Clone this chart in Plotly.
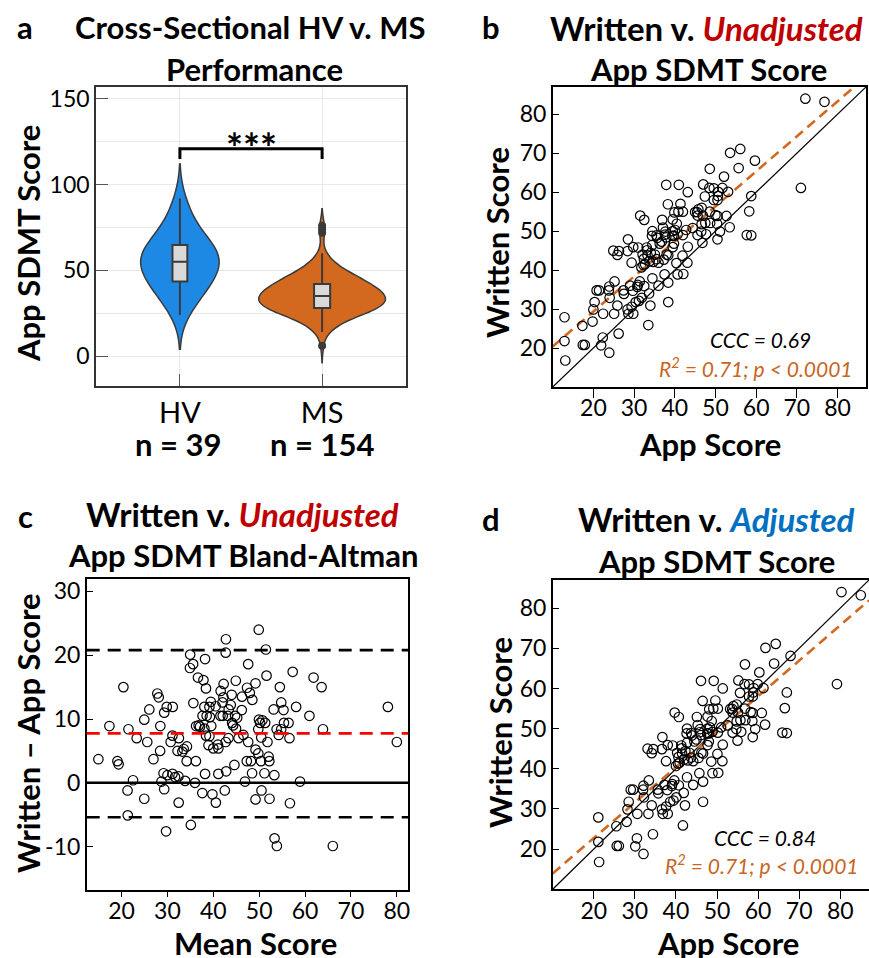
import plotly.graph_objects as go
import numpy as np

W, H = 869, 958
FONT = "Lato"

# ---------------- Panel a data ----------------
group_labels = ["HV", "MS"]
group_n = [39, 154]
hv_scores = [24, 28, 31, 34, 36, 38, 40, 41, 42, 43,
             45, 46, 48, 49, 50, 51, 52, 53, 54, 55,
             56, 57, 58, 59, 60, 61, 62, 63, 64, 65,
             66, 68, 70, 72, 75, 78, 82, 86, 92]
ms_scores = [6,
             14, 15, 16, 17, 18, 19,
             20, 20, 21, 21, 22, 22, 23, 23, 24, 24,
             25, 25, 25, 25, 25, 26, 26, 26, 26, 26, 27, 27, 27, 27, 27, 27,
             28, 28, 28, 28, 28, 28, 29, 29, 29, 29, 29, 29,
             30, 30, 30, 30, 30, 30, 31, 31, 31, 31, 31, 31, 32, 32, 32, 32, 32, 32,
             33, 33, 33, 33, 33, 33, 34, 34, 34, 34, 34, 34,
             35, 35, 35, 35, 35, 35, 36, 36, 36, 36, 36, 36, 37, 37, 37, 37, 37, 37,
             38, 38, 38, 38, 38, 39, 39, 39, 39, 39,
             40, 40, 40, 40, 40, 41, 41, 41, 41, 41, 42, 42, 42, 42, 43, 43, 43, 43,
             44, 44, 44, 44,
             45, 45, 45, 45, 46, 46, 46, 47, 47, 47, 48, 48, 48, 49, 49, 49,
             50, 51, 52, 52, 53, 54,
             55, 56, 58, 60,
             72, 74, 76]
sig_label = "***"

# ---------------- Panels b-d data ----------------
written = [16.8, 21.8, 20.8, 20.8, 27.9, 25.7, 20.7, 18.8, 22.7, 26.8,
           29.9, 23.7, 28.8, 31.8, 28.8, 34.8, 34.8, 32.9, 30.9, 28.8,
           29.9, 34.8, 28.8, 25.9, 35.8, 37.1, 33.9, 34.8, 31.8, 32.1,
           36.0, 32.9, 30.9, 34.7, 35.7, 34.0, 37.1, 35.9, 45.0, 43.9,
           44.9, 31.8, 41.9, 36.0, 40.7, 37.9, 44.9, 41.5, 36.8, 42.9,
           45.9, 44.0, 42.3, 38.9, 47.9, 45.8, 43.8, 42.1, 42.8, 41.9,
           45.1, 45.8, 44.0, 38.9, 42.7, 39.0, 43.8, 41.8, 48.8, 46.8,
           48.3, 47.3, 50.0, 48.9, 54.0, 52.9, 45.9, 43.7, 41.9, 48.4,
           46.8, 49.1, 50.9, 48.8, 50.0, 46.0, 52.9, 49.2, 49.0, 51.9,
           53.0, 47.0, 54.8, 49.0, 56.9, 50.8, 55.0, 49.9, 49.2, 55.0,
           57.0, 51.8, 47.9, 52.1, 61.9, 54.9, 54.0, 54.9, 54.0, 52.1,
           49.9, 56.0, 51.9, 61.9, 60.0, 55.0, 54.1, 53.9, 51.0, 58.9,
           53.9, 49.0, 48.9, 58.0, 58.0, 62.0, 61.1, 59.0, 61.0, 60.1,
           61.1, 60.1, 55.1, 66.0, 64.0, 59.0, 66.2, 70.1, 71.1, 68.1,
           61.1, 84.0, 83.2, 46.5, 49.9, 41.3, 50.3, 44.4, 44.0, 36.2,
           50.3, 55.6, 30.6, 48.8]
app_unadj = [13.1, 12.9, 17.4, 17.9, 12.9, 17.3, 21.9, 23.9, 22.3, 19.8,
             20.0, 26.2, 22.4, 20.3, 25.1, 20.8, 21.4, 24.0, 25.9, 28.6,
             28.4, 23.8, 29.8, 33.5, 23.9, 25.2, 27.5, 27.4, 30.4, 31.2,
             29.0, 31.9, 34.0, 29.7, 30.8, 33.7, 31.4, 32.5, 24.9, 25.9,
             26.3, 38.4, 29.4, 36.0, 31.8, 34.5, 28.4, 32.7, 38.4, 32.4,
             29.8, 32.1, 33.8, 37.5, 28.5, 31.0, 33.3, 34.7, 35.5, 36.0,
             33.2, 33.1, 35.1, 40.7, 37.3, 42.1, 38.4, 40.4, 34.4, 36.3,
             35.7, 36.8, 34.5, 35.5, 31.5, 32.5, 39.5, 41.9, 43.1, 37.9,
             39.8, 37.6, 37.1, 39.4, 39.5, 43.2, 36.9, 40.7, 42.0, 40.5,
             39.5, 46.8, 39.9, 45.6, 38.3, 44.4, 40.9, 46.5, 47.7, 42.0,
             41.4, 46.6, 50.5, 47.5, 37.9, 45.0, 45.6, 45.5, 46.9, 48.7,
             51.1, 46.6, 50.4, 41.0, 43.2, 48.6, 50.0, 50.5, 53.5, 47.4,
             52.7, 57.7, 58.8, 49.6, 50.5, 47.0, 48.5, 50.6, 49.6, 50.7,
             51.7, 53.1, 58.3, 48.6, 52.1, 58.8, 55.7, 53.6, 56.1, 59.7,
             71.0, 72.1, 76.8, 34.5, 37.7, 32.3, 40.1, 34.1, 38.0, 30.9,
             42.8, 45.8, 29.4, 39.8]
app_adj = [21.3, 21.1, 25.6, 26.1, 21.1, 25.5, 30.1, 32.1, 30.5, 28.0,
           28.2, 34.4, 30.6, 28.5, 33.3, 29.0, 29.6, 32.2, 34.1, 36.8,
           36.6, 32.0, 38.0, 41.7, 32.1, 33.4, 35.7, 35.6, 38.6, 39.4,
           37.2, 40.1, 42.2, 37.9, 39.0, 41.9, 39.6, 40.7, 33.1, 34.1,
           34.5, 46.6, 37.6, 44.2, 40.0, 42.7, 36.6, 40.9, 46.6, 40.6,
           38.0, 40.3, 42.0, 45.7, 36.7, 39.2, 41.5, 42.9, 43.7, 44.2,
           41.4, 41.3, 43.3, 48.9, 45.5, 50.3, 46.6, 48.6, 42.6, 44.5,
           43.9, 45.0, 42.7, 43.7, 39.7, 40.7, 47.7, 50.1, 51.3, 46.1,
           48.0, 45.8, 45.3, 47.6, 47.7, 51.4, 45.1, 48.9, 50.2, 48.7,
           47.7, 55.0, 48.1, 53.8, 46.5, 52.6, 49.1, 54.7, 55.9, 50.2,
           49.6, 54.8, 58.7, 55.7, 46.1, 53.2, 53.8, 53.7, 55.1, 56.9,
           59.3, 54.8, 58.6, 49.2, 51.4, 56.8, 58.2, 58.7, 61.7, 55.6,
           60.9, 65.9, 67.0, 57.8, 58.7, 55.2, 56.7, 58.8, 57.8, 58.9,
           59.9, 61.3, 66.5, 56.8, 60.3, 67.0, 63.9, 61.8, 64.3, 67.9,
           79.2, 80.3, 85.0, 42.7, 45.9, 40.5, 48.3, 42.3, 46.2, 39.1,
           51.0, 54.0, 37.6, 48.0]

fit_b = (11.4, 0.899)   # intercept, slope (unadjusted)
fit_d = (5.1, 0.883)    # intercept, slope (adjusted)
ccc_b, ccc_d = 0.69, 0.84
r2_text = "0.71"
p_text = "0.0001"
ba_bias, ba_upper, ba_lower = 7.75, 20.8, -5.4

score_ticks = [20, 30, 40, 50, 60, 70, 80]
ba_yticks = [-10, 0, 10, 20, 30]
ba_yticktext = ["-10", "0", "10", "20", "30"]
violin_yticks = [0, 50, 100, 150]

# Bland-Altman derived quantities
ba_mean = [(w + a) / 2 for w, a in zip(written, app_unadj)]
ba_diff = [w - a for w, a in zip(written, app_unadj)]

# ---------------- styling ----------------
BLUE_V = "#1E88E5"
ORANGE_V = "#D2691E"
ORANGE = "#D2691E"
ORANGE_TXT = "#C8651E"
RED_T = "#C00000"
BLUE_T = "#0070C0"
DARK = "#3A3A3A"


def PX(x):
    return x / W


def PY(y):
    return 1 - y / H


rng_b = [10, 87]
rng_cx = [12.4, 82.5]
rng_cy = [-16.8, 31.9]
rng_ax = [-0.59, 1.59]
rng_ay = [-17.5, 157]

fig = go.Figure()

# ---- Panel a: violins ----
fig.add_trace(go.Violin(
    x0=0, y=hv_scores, name=group_labels[0], width=0.55, bandwidth=10,
    fillcolor=BLUE_V, opacity=1, line=dict(color=DARK, width=1.5),
    box=dict(visible=True, width=0.19, fillcolor="#D9D9D9", line=dict(color=DARK, width=2)),
    meanline=dict(visible=False), points=False, spanmode="soft",
    scalemode="width", showlegend=False, xaxis="x", yaxis="y", hoverinfo="skip"))
fig.add_trace(go.Violin(
    x0=1, y=ms_scores, name=group_labels[1], width=0.89, bandwidth=5,
    fillcolor=ORANGE_V, opacity=1, line=dict(color=DARK, width=1.5),
    box=dict(visible=True, width=0.127, fillcolor="#D9D9D9", line=dict(color=DARK, width=2)),
    meanline=dict(visible=False), points="outliers", pointpos=0, jitter=0,
    marker=dict(color=DARK, size=8, line=dict(width=0)), spanmode="soft",
    scalemode="width", showlegend=False, xaxis="x", yaxis="y", hoverinfo="skip"))

bracket_y, bracket_drop = 121, 6
fig.add_trace(go.Scatter(
    x=[0, 0, 1, 1], y=[bracket_y - bracket_drop, bracket_y, bracket_y, bracket_y - bracket_drop],
    mode="lines", line=dict(color="black", width=3), showlegend=False,
    xaxis="x", yaxis="y", hoverinfo="skip"))

marker_style = dict(symbol="circle-open", size=9.5, color="black", line=dict(width=1.2))

# ---- Panel b ----
fig.add_trace(go.Scatter(x=rng_b, y=rng_b, mode="lines", line=dict(color="black", width=1.2),
                         xaxis="x2", yaxis="y2", showlegend=False, hoverinfo="skip"))
xb = np.array(rng_b, dtype=float)
fig.add_trace(go.Scatter(x=xb, y=fit_b[0] + fit_b[1] * xb, mode="lines",
                         line=dict(color=ORANGE, width=2.6, dash="10px,6px"),
                         xaxis="x2", yaxis="y2", showlegend=False, hoverinfo="skip"))
fig.add_trace(go.Scatter(x=app_unadj, y=written, mode="markers", marker=marker_style,
                         xaxis="x2", yaxis="y2", showlegend=False))

# ---- Panel c ----
fig.add_trace(go.Scatter(x=ba_mean, y=ba_diff, mode="markers", marker=marker_style,
                         xaxis="x3", yaxis="y3", showlegend=False))

# ---- Panel d ----
fig.add_trace(go.Scatter(x=rng_b, y=rng_b, mode="lines", line=dict(color="black", width=1.2),
                         xaxis="x4", yaxis="y4", showlegend=False, hoverinfo="skip"))
fig.add_trace(go.Scatter(x=xb, y=fit_d[0] + fit_d[1] * xb, mode="lines",
                         line=dict(color=ORANGE, width=2.6, dash="10px,6px"),
                         xaxis="x4", yaxis="y4", showlegend=False, hoverinfo="skip"))
fig.add_trace(go.Scatter(x=app_adj, y=written, mode="markers", marker=marker_style,
                         xaxis="x4", yaxis="y4", showlegend=False))

# empty traces for the tick-mark-only overlay axes
for xa, ya in (("x5", "y2"), ("x6", "y3"), ("x7", "y4")):
    fig.add_trace(go.Scatter(x=[], y=[], xaxis=xa, yaxis=ya, showlegend=False, hoverinfo="skip"))

# Bland-Altman reference lines
shapes = [
    dict(type="line", xref="x3 domain", yref="y3", x0=0, x1=1, y0=ba_upper, y1=ba_upper,
         line=dict(color="black", width=2.6, dash="13px,8px")),
    dict(type="line", xref="x3 domain", yref="y3", x0=0, x1=1, y0=ba_lower, y1=ba_lower,
         line=dict(color="black", width=2.6, dash="13px,8px")),
    dict(type="line", xref="x3 domain", yref="y3", x0=0, x1=1, y0=ba_bias, y1=ba_bias,
         line=dict(color="#FF0000", width=2.6, dash="13px,8px")),
    dict(type="line", xref="x3 domain", yref="y3", x0=0, x1=1, y0=0, y1=0,
         line=dict(color="black", width=2.4)),
]

tickfont = dict(family=FONT, size=23, color="black")

common_box = dict(showline=True, linecolor="black", linewidth=1.5, mirror=True,
                  showgrid=False, zeroline=False, tickfont=tickfont, automargin=False,
                  tickcolor="black", tickwidth=1.3)


def tick_overlay(base, anchor, rng, ticklen):
    return dict(overlaying=base, anchor=anchor, range=rng, tickvals=score_ticks,
                ticks="outside", ticklen=ticklen, tickcolor="black", tickwidth=1.3,
                showticklabels=False, showline=False, showgrid=False, zeroline=False,
                automargin=False, side="bottom")


layout = dict(
    width=W, height=H, margin=dict(l=0, r=0, t=0, b=0, pad=0),
    paper_bgcolor="white", plot_bgcolor="white", template="none",
    violinmode="overlay", violingap=0, showlegend=False,
    font=dict(family=FONT, color="black"),
    xaxis=dict(domain=[PX(96), PX(406)], range=rng_ax, tickvals=[0, 1], ticktext=group_labels,
               showline=True, linecolor="#333333", linewidth=1.5, mirror=True,
               showgrid=True, gridcolor="#E8E8E8", gridwidth=1.2, zeroline=False,
               ticks="inside", ticklen=12, tickcolor="#555555", tickwidth=1.3,
               tickfont=dict(family=FONT, size=29, color="black"), automargin=False,
               anchor="y"),
    yaxis=dict(domain=[PY(386), PY(87)], range=rng_ay, tickvals=violin_yticks,
               showline=True, linecolor="#333333", linewidth=1.5, mirror=True,
               showgrid=True, gridcolor="#E8E8E8", gridwidth=1.2, zeroline=False,
               minor=dict(dtick=25, tick0=0, showgrid=True, gridcolor="#E8E8E8", gridwidth=1.2, ticks=""),
               ticks="inside", ticklen=12, tickcolor="#555555", tickwidth=1.3,
               tickfont=dict(family=FONT, size=23, color="black"), automargin=False,
               anchor="x"),
    xaxis2=dict(domain=[PX(552.7), PX(866)], range=rng_b, tickvals=score_ticks,
                ticks="", anchor="y2", **common_box),
    yaxis2=dict(domain=[PY(387), PY(87)], range=rng_b, tickvals=score_ticks,
                ticks="inside", ticklen=7, anchor="x2", **common_box),
    xaxis3=dict(domain=[PX(86.7), PX(408.3)], range=rng_cx, tickvals=score_ticks,
                ticks="", anchor="y3", **common_box),
    yaxis3=dict(domain=[PY(890), PY(579.3)], range=rng_cy, tickvals=ba_yticks,
                ticktext=ba_yticktext, ticks="inside", ticklen=7, anchor="x3", **common_box),
    xaxis4=dict(domain=[PX(552.7), 1.0], range=rng_b, tickvals=score_ticks,
                ticks="", anchor="y4", **common_box),
    yaxis4=dict(domain=[PY(889.3), PY(580)], range=rng_b, tickvals=score_ticks,
                ticks="inside", ticklen=7, anchor="x4", **common_box),
    xaxis5=tick_overlay("x2", "y2", rng_b, 10),
    xaxis6=tick_overlay("x3", "y3", rng_cx, 6),
    xaxis7=tick_overlay("x4", "y4", rng_b, 9),
    shapes=shapes,
)
fig.update_layout(**layout)

ann = []


def txt(x, y, text, size, color="black", xanchor="center", yanchor="middle", angle=0):
    ann.append(dict(x=PX(x), y=PY(y), xref="paper", yref="paper", text=text, showarrow=False,
                    font=dict(family=FONT, size=size, color=color), xanchor=xanchor,
                    yanchor=yanchor, textangle=angle))


TS = 31
TW = 33
# panel letters
txt(25, 27, "<b>a</b>", TS)
txt(491, 27, "<b>b</b>", TS)
txt(25, 516, "<b>c</b>", TS)
txt(491, 519, "<b>d</b>", TS)

# titles
txt(250, 27, "<b>Cross-Sectional HV v. MS</b>", TS)
txt(254, 69, "<b>Performance</b>", TS)
txt(706, 28, "<b>Written v. </b><b><i><span style='color:%s'>Unadjusted</span></i></b>" % RED_T, TW)
txt(708, 69, "<b>App SDMT Score</b>", TS)
txt(242, 514, "<b>Written v. </b><b><i><span style='color:%s'>Unadjusted</span></i></b>" % RED_T, TW)
txt(243, 555, "<b>App SDMT Bland-Altman</b>", TS)
txt(716, 519, "<b>Written v. </b><b><i><span style='color:%s'>Adjusted</span></i></b>" % BLUE_T, TW)
txt(716, 561, "<b>App SDMT Score</b>", TS)

# axis titles
txt(28, 244, "<b>App SDMT Score</b>", TS, angle=-90)
txt(497, 243, "<b>Written Score</b>", TS, angle=-90)
txt(710, 444, "<b>App Score</b>", TS)
txt(28, 733, "<b>Written \u2013 App Score</b>", TS, angle=-90)
txt(255, 943, "<b>Mean Score</b>", TS)
txt(500, 733, "<b>Written Score</b>", TS, angle=-90)
txt(728, 943, "<b>App Score</b>", TS)

# n labels
txt(178, 444, "<b>n = %d</b>" % group_n[0], 31)
txt(322, 444, "<b>n = %d</b>" % group_n[1], 31)

# stats text
txt(760, 339, "<i>CCC = %.2f</i>" % ccc_b, 21)
txt(756, 367, "<i>R<sup>2</sup> = %s; p < %s</i>" % (r2_text, p_text), 21, color=ORANGE_TXT)
txt(765, 837, "<i>CCC = %.2f</i>" % ccc_d, 21)
txt(762, 864, "<i>R<sup>2</sup> = %s; p < %s</i>" % (r2_text, p_text), 21, color=ORANGE_TXT)

# significance stars (data coords, panel a)
ann.append(dict(x=0.5, y=121.5, xref="x", yref="y", text="<b>%s</b>" % sig_label,
                showarrow=False, font=dict(family=FONT, size=40, color="black"),
                xanchor="center", yanchor="middle"))

fig.update_layout(annotations=ann)
fig.write_html("out.html")
